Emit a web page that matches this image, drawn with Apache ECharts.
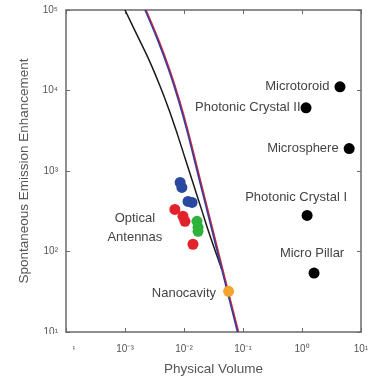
<!DOCTYPE html>
<html><head><meta charset="utf-8">
<script src="https://cdn.jsdelivr.net/npm/echarts@6/dist/echarts.min.js"></script>
<style>html,body{margin:0;padding:0;background:#fff}#c{width:374px;height:381px}</style>
</head><body><div id="c"></div>
<script>
const xTickLabels = ['10⁻⁴','10⁻³','10⁻²','10⁻¹','10⁰','10¹'];
const yTickLabels = ['10¹','10²','10³','10⁴','10⁵'];
const cavityNames = ['Microtoroid','Photonic Crystal II','Microsphere','Photonic Crystal I','Micro Pillar'];
const cavityVolume = [4.4, 1.17, 6.3, 1.22, 1.6];
const cavityEnhancement = [11100, 6100, 1900, 281, 54];
const nanocavityName = 'Nanocavity';
const nanocavityVolume = [0.057];
const nanocavityEnhancement = [32];
const antennaName = 'Optical\nAntennas';
const antennaBlueVolume = [0.0086, 0.0092, 0.0117, 0.0137];
const antennaBlueEnh = [721, 625, 419, 407];
const antennaRedVolume = [0.0070, 0.0096, 0.0104, 0.0142];
const antennaRedEnh = [333, 274, 237, 123];
const antennaGreenVolume = [0.0166, 0.0173, 0.0173];
const antennaGreenEnh = [237, 200, 178];
const blackCurveVolume = [0.001, 0.001597, 0.002551, 0.003843, 0.005569, 0.00776, 0.0106, 0.01449, 0.01979, 0.02705, 0.04355];
const blackCurveEnh = [100000, 49020, 24040, 11780, 5775, 2831, 1388, 680.6, 333.7, 163.5, 60.3];
const blueCurveVolume = [0.002183, 0.003569, 0.005503, 0.008007, 0.01111, 0.0181, 0.02948, 0.04801, 0.08069];
const blueCurveEnh = [100000, 42510, 18070, 7683, 3265, 784.8, 188.6, 45.33, 10];
const redCurveVolume = [0.00227, 0.003712, 0.005723, 0.008327, 0.01155, 0.01882, 0.03066, 0.04993, 0.08392];
const redCurveEnh = [100000, 42510, 18070, 7683, 3265, 784.8, 188.6, 45.33, 10];

const zip = (a, b) => a.map((v, i) => [v, b[i]]);
const labelStyles = [
  {position: 'left', distance: 5},
  {position: 'left', distance: 0},
  {position: 'left', distance: 5},
  {position: 'top', distance: 6, offset: [-11, 0]},
  {position: 'top', distance: 8, offset: [-2, 0]}
];
const txt = {color: '#444', fontSize: 13, fontFamily: 'Liberation Sans, Arial, sans-serif'};
const axisLine = {lineStyle: {color: '#6a6a6a', width: 1.5}};
const tickIn = {inside: true, length: 4, lineStyle: {color: '#6a6a6a'}};

const chart = echarts.init(document.getElementById('c'));
chart.setOption({
  animation: false,
  backgroundColor: '#fff',
  grid: {left: 66, right: 13, top: 10, bottom: 48},
  xAxis: [
    {type: 'log', logBase: 10, min: 1e-4, max: 10, position: 'bottom',
     axisLine: axisLine, axisTick: tickIn, splitLine: {show: false},
     axisLabel: {color: '#555', fontSize: 10, margin: 12,
       formatter: v => xTickLabels[Math.round(Math.log10(v)) + 4]},
     name: 'Physical Volume', nameLocation: 'middle', nameGap: 30,
     nameTextStyle: Object.assign({}, txt, {fontSize: 13.5, color: '#555'})},
    {type: 'log', logBase: 10, min: 1e-4, max: 10, position: 'top',
     axisLine: axisLine, axisTick: tickIn, axisLabel: {show: false}, splitLine: {show: false}}
  ],
  yAxis: [
    {type: 'log', logBase: 10, min: 10, max: 1e5, position: 'left',
     axisLine: axisLine, axisTick: tickIn, splitLine: {show: false},
     axisLabel: {color: '#555', fontSize: 10, margin: 8,
       formatter: v => yTickLabels[Math.round(Math.log10(v)) - 1]},
     name: 'Spontaneous Emission Enhancement', nameLocation: 'middle', nameGap: 30,
     nameTextStyle: Object.assign({}, txt, {fontSize: 13.5, color: '#555'})},
    {type: 'log', logBase: 10, min: 10, max: 1e5, position: 'right',
     axisLine: axisLine, axisTick: tickIn, axisLabel: {show: false}, splitLine: {show: false}}
  ],
  series: [
    {type: 'line', data: zip(blackCurveVolume, blackCurveEnh), smooth: 0.4, symbol: 'none',
     lineStyle: {color: '#1a1a1a', width: 1.5}, z: 2},
    {type: 'line', data: zip(redCurveVolume, redCurveEnh), smooth: 0.4, symbol: 'none',
     lineStyle: {color: '#d8283a', width: 1.6}, z: 3},
    {type: 'line', data: zip(blueCurveVolume, blueCurveEnh), smooth: 0.4, symbol: 'none',
     lineStyle: {color: '#3b3b9e', width: 1.6}, z: 4},
    {type: 'scatter', symbolSize: 11, itemStyle: {color: '#000', opacity: 1}, z: 5,
     data: cavityVolume.map((v, i) => ({
       value: [v, cavityEnhancement[i]],
       label: Object.assign({show: true, formatter: cavityNames[i]}, txt, labelStyles[i])
     }))},
    {type: 'scatter', symbolSize: 11, itemStyle: {color: '#2a48a0', opacity: 1}, z: 5,
     data: zip(antennaBlueVolume, antennaBlueEnh)},
    {type: 'scatter', symbolSize: 11, itemStyle: {color: '#e3232b', opacity: 1}, z: 5,
     data: zip(antennaRedVolume, antennaRedEnh).map((p, i) => i === 0 ? {
       value: p,
       label: Object.assign({show: true, formatter: antennaName, position: 'inside',
         offset: [-40, 18], align: 'center', verticalAlign: 'middle', lineHeight: 19}, txt)
     } : p)},
    {type: 'scatter', symbolSize: 11, itemStyle: {color: '#2db23a', opacity: 1}, z: 5,
     data: zip(antennaGreenVolume, antennaGreenEnh)},
    {type: 'scatter', symbolSize: 11, itemStyle: {color: '#f4a42a', opacity: 1}, z: 6,
     data: zip(nanocavityVolume, nanocavityEnhancement),
     label: Object.assign({show: true, formatter: nanocavityName, position: 'left', distance: 7, offset: [0, 2]}, txt)}
  ],
  graphic: [
    {type: 'rect', shape: {x: 0, y: 334, width: 73, height: 47}, style: {fill: '#fff'}, z: 100}
  ]
});
</script></body></html>
